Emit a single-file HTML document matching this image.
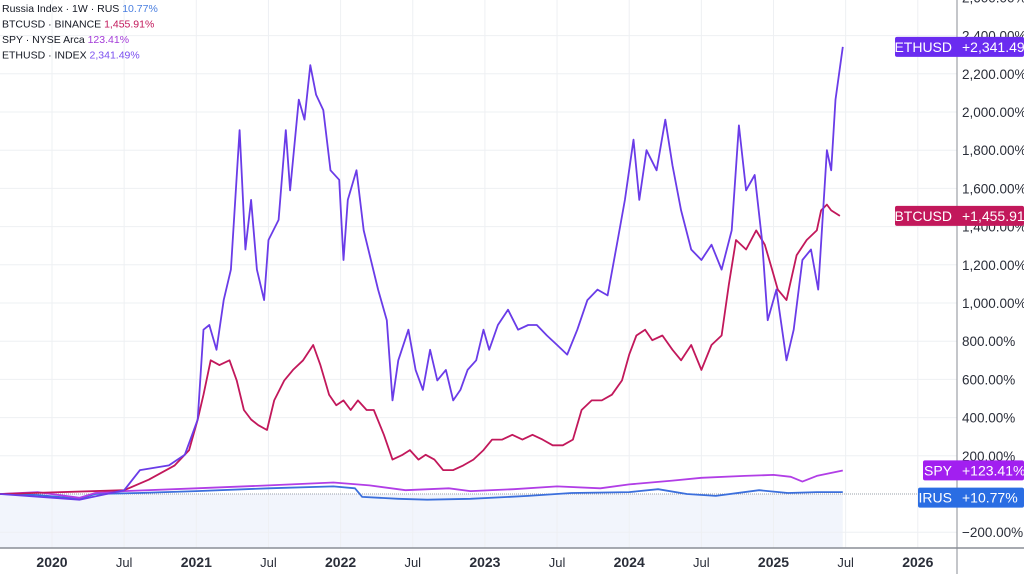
<!DOCTYPE html>
<html><head><meta charset="utf-8"><style>
body{margin:0;background:#fff;font-family:"Liberation Sans",sans-serif}
svg{display:block}
</style></head><body>
<svg id="chart" width="1024" height="574" viewBox="0 0 1024 574" xmlns="http://www.w3.org/2000/svg"></svg>
<script>
const yTicks=[2600,2400,2200,2000,1800,1600,1400,1200,1000,800,600,400,200,-200];
const xTickDates=[2020,2020.5,2021,2021.5,2022,2022.5,2023,2023.5,2024,2024.5,2025,2025.5,2026];
const xTickLabels=["2020","Jul","2021","Jul","2022","Jul","2023","Jul","2024","Jul","2025","Jul","2026"];
const ethDates=[2019.64,2020.19,2020.50,2020.61,2020.81,2020.92,2021.01,2021.05,2021.09,2021.14,2021.19,2021.24,2021.30,2021.34,2021.38,2021.42,2021.47,2021.50,2021.57,2021.62,2021.65,2021.71,2021.75,2021.79,2021.83,2021.88,2021.93,2021.99,2022.02,2022.05,2022.11,2022.16,2022.21,2022.26,2022.32,2022.36,2022.40,2022.47,2022.52,2022.57,2022.62,2022.67,2022.73,2022.78,2022.83,2022.88,2022.94,2022.99,2023.03,2023.09,2023.16,2023.23,2023.30,2023.36,2023.43,2023.50,2023.57,2023.64,2023.71,2023.78,2023.85,2023.92,2023.97,2024.03,2024.07,2024.12,2024.19,2024.25,2024.30,2024.36,2024.43,2024.50,2024.57,2024.64,2024.71,2024.76,2024.81,2024.87,2024.92,2024.96,2025.02,2025.09,2025.14,2025.20,2025.26,2025.31,2025.37,2025.40,2025.43,2025.48];
const ethValues=[0,-30,20,125,150,205,390,860,885,755,1015,1175,1905,1280,1540,1175,1015,1330,1435,1905,1590,2065,1960,2245,2090,2010,1695,1645,1225,1540,1695,1380,1225,1070,910,490,700,860,650,545,755,595,650,490,545,650,700,860,755,885,965,860,885,885,830,780,730,860,1015,1070,1040,1330,1540,1855,1540,1800,1695,1960,1720,1485,1280,1225,1305,1175,1380,1930,1590,1670,1330,910,1070,700,860,1225,1280,1070,1800,1695,2065,2341];
const btcDates=[2019.64,2020.50,2020.67,2020.85,2020.95,2021.01,2021.05,2021.10,2021.16,2021.23,2021.28,2021.33,2021.38,2021.43,2021.49,2021.54,2021.61,2021.67,2021.74,2021.81,2021.86,2021.92,2021.97,2022.02,2022.07,2022.12,2022.18,2022.23,2022.30,2022.36,2022.43,2022.48,2022.54,2022.59,2022.65,2022.71,2022.78,2022.85,2022.92,2022.99,2023.05,2023.12,2023.19,2023.26,2023.33,2023.40,2023.47,2023.54,2023.61,2023.67,2023.74,2023.81,2023.88,2023.95,2024.00,2024.05,2024.11,2024.16,2024.23,2024.30,2024.36,2024.43,2024.50,2024.57,2024.64,2024.69,2024.74,2024.81,2024.88,2024.94,2024.99,2025.03,2025.09,2025.16,2025.23,2025.30,2025.33,2025.37,2025.40,2025.46];
const btcValues=[0,20,75,150,230,390,520,700,675,700,595,440,390,360,335,490,595,650,700,780,675,520,465,490,440,490,440,440,310,180,205,230,180,205,180,125,125,150,180,230,285,285,310,285,310,285,255,255,285,440,490,490,520,595,730,830,860,805,830,755,700,780,650,780,830,1095,1330,1280,1380,1305,1175,1070,1015,1250,1330,1380,1485,1515,1485,1456];
const spyDates=[2019.64,2019.9,2020.19,2020.3,2020.5,2021.0,2021.5,2021.95,2022.2,2022.45,2022.75,2022.9,2023.2,2023.5,2023.8,2024.0,2024.3,2024.5,2024.8,2025.0,2025.12,2025.2,2025.3,2025.48];
const spyValues=[0,10,-20,5,15,30,45,60,45,20,30,15,25,40,30,50,70,85,95,100,90,65,95,123];
const irusDates=[2019.64,2019.9,2020.19,2020.3,2020.6,2021.0,2021.5,2021.95,2022.1,2022.15,2022.4,2022.6,2022.9,2023.3,2023.6,2024.0,2024.2,2024.4,2024.6,2024.9,2025.1,2025.3,2025.48];
const irusValues=[0,-5,-25,0,5,15,30,40,30,-15,-25,-30,-25,-10,5,10,25,0,-10,20,5,10,10];

const NS="http://www.w3.org/2000/svg";
const svg=document.getElementById('chart');
const X=t=>52+(t-2020)*144.3;
const Y=v=>494-v*0.191;
function mk(tag,attrs,parent){const e=document.createElementNS(NS,tag);for(const k in attrs)e.setAttribute(k,attrs[k]);(parent||svg).appendChild(e);return e;}
const area=mk('rect',{x:0,y:Y(0),width:X(2025.48),height:548-Y(0),fill:'#f2f5fc'});


yTicks.forEach(v=>{const l=mk('line',{x1:0,x2:957,y1:Y(v),y2:Y(v),stroke:'#eef0f3','stroke-width':1});

});
xTickDates.forEach(t=>{const l=mk('line',{x1:X(t),x2:X(t),y1:0,y2:548,stroke:'#eef0f3','stroke-width':1});

});
const bl=mk('line',{x1:0,x2:957,y1:Y(0),y2:Y(0),stroke:'#9aa0aa','stroke-width':1,'stroke-dasharray':'1 1'});


const xa=mk('line',{x1:0,x2:1024,y1:548,y2:548,stroke:'#8a8e96','stroke-width':1.5});


const ya=mk('line',{x1:957,x2:957,y1:0,y2:574,stroke:'#8a8e96','stroke-width':1});


yTicks.forEach(v=>{const t=mk('text',{x:962,y:Y(v)+5,'font-size':13.5,fill:'#2a2e39'});
t.textContent=(v<0?'\u2212':'')+Math.abs(v).toLocaleString('en-US',{minimumFractionDigits:2})+'%';

});
xTickDates.forEach((d,i)=>{const yr=xTickLabels[i]!=='Jul';const t=mk('text',{x:X(d),y:567,'font-size':yr?14:13,'font-weight':yr?'bold':'normal','text-anchor':'middle',fill:'#2a2e39'});
t.textContent=xTickLabels[i];

});
function line(dates,vals,color,name,w){const d=dates.map((t,i)=>(i?'L':'M')+X(t).toFixed(1)+' '+Y(vals[i]).toFixed(1)).join(' ');
const p=mk('path',{d:d,fill:'none',stroke:color,'stroke-width':w,'stroke-linejoin':'round'});

}
line(irusDates,irusValues,'#3b6fdc','irus-line',1.8);
line(spyDates,spyValues,'#b13ee6','spy-line',1.8);
line(btcDates,btcValues,'#c2185b','btcusd-line',1.8);
line(ethDates,ethValues,'#6a3ce8','ethusd-line',1.8);
function tag(label,val,v,color,x0,name){const y=Y(v)-10;
const r=mk('rect',{x:x0,y:y,width:1024-x0,height:20,fill:color,rx:2});


const a=mk('text',{x:952,y:y+15,'font-size':14,'text-anchor':'end',fill:'#fff'});a.textContent=label;


const b=mk('text',{x:962,y:y+15,'font-size':14,fill:'#fff'});b.textContent=val;

}
tag('ETHUSD','+2,341.49%',2341,'#6a2cf0',895,'ethusd-price-tag');
tag('BTCUSD','+1,455.91%',1456,'#c2185b',895,'btcusd-price-tag');
tag('SPY','+123.41%',123.41,'#a21ff0',923,'spy-price-tag');
tag('IRUS','+10.77%',10.77-30,'#2a6de3',918,'irus-price-tag');
const leg=[["Russia Index · 1W · RUS","10.77%","#4a7fe0"],["BTCUSD · BINANCE","1,455.91%","#c2185b"],["SPY · NYSE Arca","123.41%","#a33bd8"],["ETHUSD · INDEX","2,341.49%","#7a4ff0"]];
leg.forEach((l,i)=>{const t=mk('text',{x:2,y:12+i*15.5,'font-size':10.5,fill:'#131722'});


const s1=mk('tspan',{},t);s1.textContent=l[0]+'  ';
const s2=mk('tspan',{fill:l[2]},t);s2.textContent=l[1];});
</script>
</body></html>
